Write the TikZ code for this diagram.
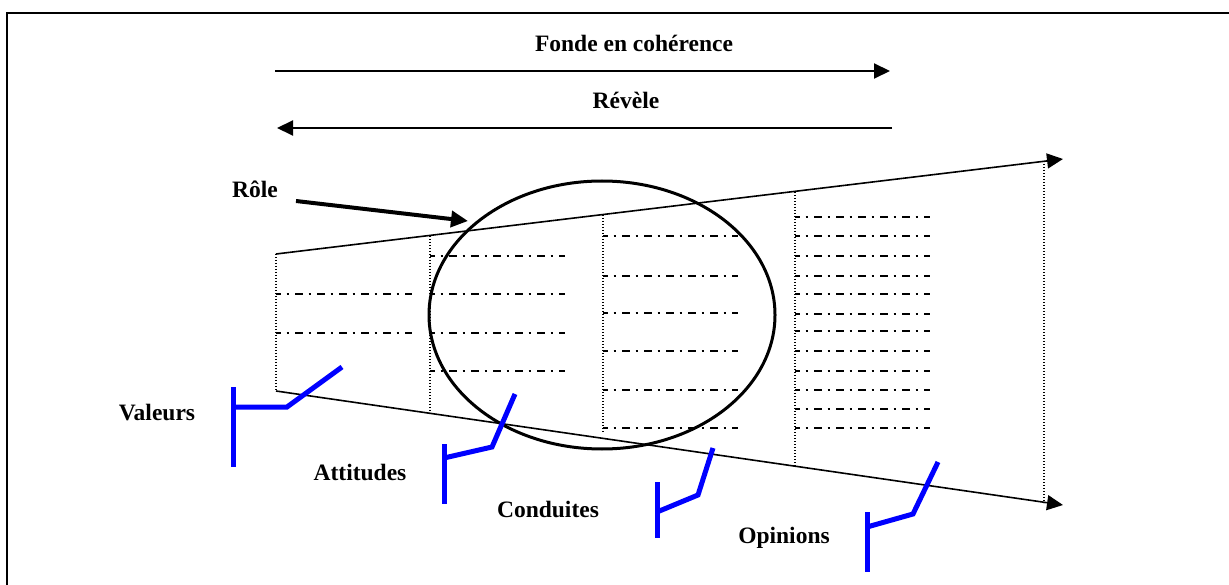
\documentclass[tikz,border=0pt]{standalone}
\usepackage{fontspec}
\setmainfont{Liberation Serif}
\usetikzlibrary{arrows.meta}
\begin{document}
\begin{tikzpicture}[x=1pt,y=-1pt,
  lbl/.style={inner sep=0pt,font=\bfseries\fontsize{23.5}{28}\selectfont},
  thin line/.style={line width=1.6pt},
  dotcol/.style={line width=1.2pt,dash pattern=on 1.2pt off 1.8pt},
  dashrow/.style={line width=1.6pt,dash pattern=on 7.7pt off 6pt on 2pt off 6.3pt,dash phase=3pt},
  tip/.style={-{Triangle[length=16pt,width=15pt]}},
  bluemark/.style={draw={rgb,255:red,0;green,0;blue,255},line width=5pt},
]
\useasboundingbox (0,0) rectangle (1229,585);
% frame
\draw[line width=1.8pt] (7,585) -- (7,13) -- (1229,13);

% top arrows
\coordinate (f1) at (275,71); \coordinate (f2) at (890,71);
\coordinate (r1) at (892,128); \coordinate (r2) at (277,128);
\draw[line width=2pt,tip] (f1) -- (f2);
\draw[line width=2pt,tip] (r1) -- (r2);
\node[lbl] (fonde) at (634,43) {Fonde en cohérence};
\node[lbl] (revele) at (626,100) {Révèle};

% trapezoid
\coordinate (tl) at (276,254); \coordinate (bl) at (276,391);
\coordinate (tr) at (1063,159); \coordinate (br) at (1063,505);
\draw[thin line,tip] (tl) -- (tr);
\draw[thin line,tip] (bl) -- (br);
\draw[dotcol] (tl) -- (bl);
\draw[dotcol] (430,236) -- (430,412);
\draw[dotcol] (603,215) -- (603,432);
\draw[dotcol] (795,192) -- (795,466);
\draw[dotcol] (1044,161) -- (1044,503);

% dash-dot rows
\foreach \y in {294,333} \draw[dashrow] (276,\y) -- (412,\y);
\foreach \y in {256,294,333,371} \draw[dashrow] (430,\y) -- (565,\y);
\foreach \y in {236,276,313,351,390,428} \draw[dashrow] (603,\y) -- (738,\y);
\foreach \y in {217,236,256,276,294,314,331,351,371,390,409,428} \draw[dashrow] (795,\y) -- (930,\y);

% ellipse
\coordinate (ec) at (602,315);
\draw[line width=3pt] (ec) ellipse [x radius=173pt, y radius=134pt];

% Role arrow
\node[lbl] (role) at (255,189) {Rôle};
\coordinate (ra) at (296,201); \coordinate (rb) at (468,221);
\draw[line width=4pt,-{Triangle[length=17pt,width=16pt]}] (ra) -- (rb);

% blue marks
\draw[bluemark] (233,387) -- (233,467);
\draw[bluemark] (233,407) -- (287,407) -- (342,367);
\draw[bluemark] (444,444) -- (444,504);
\draw[bluemark] (444,458) -- (492,447) -- (515,394);
\draw[bluemark] (657,482) -- (657,538);
\draw[bluemark] (657,512) -- (698,495) -- (713,448);
\draw[bluemark] (867,512) -- (867,572);
\draw[bluemark] (867,527) -- (913,514) -- (938,462);

% labels
\node[lbl] (valeurs) at (157,413) {Valeurs};
\node[lbl] (attitudes) at (360,472) {Attitudes};
\node[lbl] (conduites) at (548,509) {Conduites};
\node[lbl] (opinions) at (784,538) {Opinions};
\end{tikzpicture}
\end{document}
